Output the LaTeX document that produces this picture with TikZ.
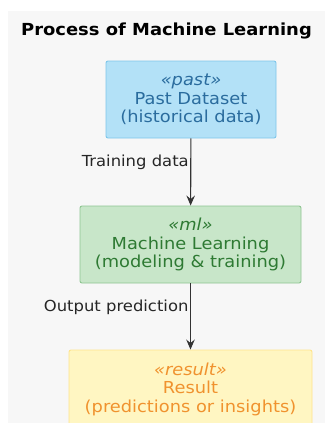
\documentclass[tikz,border=0pt]{standalone}
\usepackage{fontspec}
\setmainfont{DejaVu Sans}[FakeStretch=1.08]
\usepackage{xcolor}
\usepackage{tikz}
\usetikzlibrary{arrows.meta}

\definecolor{pastfill}{HTML}{B3E1F7}
\definecolor{pastline}{HTML}{7EC6EA}
\definecolor{pasttext}{HTML}{2A6C9E}
\definecolor{mlfill}{HTML}{C8E6C9}
\definecolor{mlline}{HTML}{8EC591}
\definecolor{mltext}{HTML}{2E7A33}
\definecolor{resfill}{HTML}{FFF6C2}
\definecolor{resline}{HTML}{FFE48C}
\definecolor{restext}{HTML}{F0922E}
\definecolor{canvas}{HTML}{F7F7F7}

\begin{document}
\begin{tikzpicture}[x=1pt, y=-1pt,
    box/.style={draw, line width=0.9pt, rounded corners=2pt, inner sep=0pt,
      align=center, font=\fontsize{16.5}{18.5}\selectfont},
    flow/.style={-{Stealth[length=10pt, width=8.5pt, inset=3.5pt]},
      line width=1.1pt, black!80},
    lbl/.style={anchor=east, inner sep=1.5pt, text=black!85,
      font=\fontsize{15.2}{17}\selectfont}]
  \useasboundingbox (0,0) rectangle (325,423);
  \fill[white] (0,0) rectangle (325,423);
  \fill[canvas] (8,11) rectangle (325,423);
  % title
  \node[font=\fontsize{16.6}{18}\selectfont\bfseries] (title) at (166.5,31) {Process of Machine Learning};
  % the three stages
  \node[box, fill=pastfill, draw=pastline, text=pasttext,
    minimum width=170pt, minimum height=77pt] (past) at (191,99.5)
    {\textit{«past»}\\Past Dataset\\(historical data)};
  \node[box, fill=mlfill, draw=mlline, text=mltext,
    minimum width=221pt, minimum height=77pt] (ml) at (190.5,244.5)
    {\textit{«ml»}\\Machine Learning\\(modeling \& training)};
  \node[box, fill=resfill, draw=resline, text=restext,
    minimum width=243pt, minimum height=78pt] (result) at (190.5,389)
    {\textit{«result»}\\Result\\(predictions or insights)};
  % connectors
  \draw[flow] (past) -- node[lbl, pos=0.36] {Training data} (ml);
  \draw[flow] (ml) -- node[lbl, pos=0.36] {Output prediction} (result);
\end{tikzpicture}
\end{document}
